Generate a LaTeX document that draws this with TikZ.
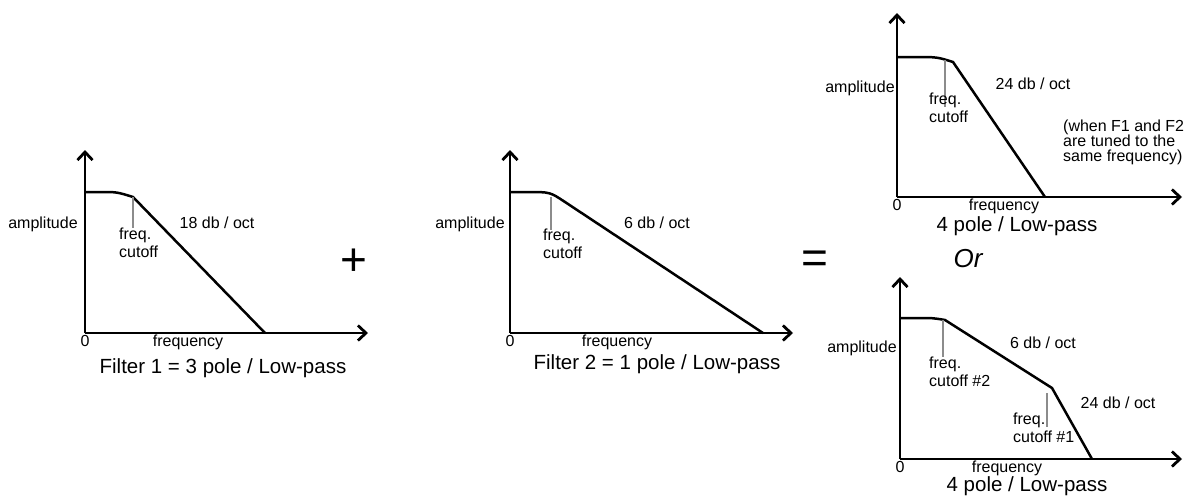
\documentclass[tikz,border=0pt]{standalone}
\usepackage{fontspec}
\setmainfont{Liberation Sans}
\usetikzlibrary{arrows.meta}
\definecolor{TickGray}{RGB}{140,140,140}

\begin{document}
\begin{tikzpicture}[
  x=1pt, y=-1pt,
  >={Straight Barb[length=8pt,width=15pt]},
  axis/.style={->, line width=2.8pt},
  resp/.style={line width=2.5pt},
  cut/.style={line width=2pt, draw=TickGray},
  lbl/.style={inner sep=0pt, anchor=mid, font=\fontsize{16}{18}\selectfont},
  note/.style={inner sep=0pt, anchor=west, align=left, font=\fontsize{16}{18}\selectfont},
  ttl/.style={inner sep=0pt, anchor=mid, font=\fontsize{20.5}{24}\selectfont},
  op/.style={inner sep=0pt, font=\fontsize{46}{50}\selectfont},
]
  \useasboundingbox (0,0) rectangle (1189,498);

  % ========== Filter 1 ==========
  \coordinate (o1) at (85,333);
  \coordinate (y1) at (85,150);
  \coordinate (x1) at (368,333);
  \coordinate (t1) at (85,192);
  \coordinate (k1) at (133,197);
  \coordinate (z1) at (265,333);
  \draw[axis] (o1) -- (y1);
  \draw[axis] (o1) -- (x1);
  \draw[resp] (t1) -- ++(15,0) .. controls +(17,0) .. (k1) -- (z1);
  \draw[cut] (k1) -- ++(0,31);
  \node[lbl] (amp1) at (43,226) {amplitude};
  \node[note] (fc1) at (119,243) {freq.\\cutoff};
  \node[lbl] (sl1) at (217,226) {18 db / oct};
  \node[lbl] (zero1) at (85,344) {0};
  \node[lbl] (fq1) at (188,344) {frequency};
  \node[ttl] (ttl1) at (223,371) {Filter 1 = 3 pole / Low-pass};

  \node[op] (plus) at (354,262) {+};

  % ========== Filter 2 ==========
  \coordinate (o2) at (510,333);
  \coordinate (y2) at (510,150);
  \coordinate (x2) at (793,333);
  \coordinate (t2) at (510,192);
  \coordinate (k2) at (565,202);
  \coordinate (z2) at (763,333);
  \draw[axis] (o2) -- (y2);
  \draw[axis] (o2) -- (x2);
  \draw[resp] (t2) -- ++(18,0) .. controls +(22,0) .. (k2) -- (z2);
  \draw[cut] (551,197) -- ++(0,33);
  \node[lbl] (amp2) at (470,226) {amplitude};
  \node[note] (fc2) at (543,244) {freq.\\cutoff};
  \node[lbl] (sl2) at (657,226) {6 db / oct};
  \node[lbl] (zero2) at (510,344) {0};
  \node[lbl] (fq2) at (617,344) {frequency};
  \node[ttl] (ttl2) at (657,367) {Filter 2 = 1 pole / Low-pass};

  \node[op] (eq) at (815,262) {=};

  % ========== Result A: same frequency ==========
  \coordinate (o3) at (897,197);
  \coordinate (y3) at (897,13);
  \coordinate (x3) at (1182,197);
  \coordinate (t3) at (897,57);
  \coordinate (k3) at (953,62);
  \coordinate (z3) at (1045,197);
  \draw[axis] (o3) -- (y3);
  \draw[axis] (o3) -- (x3);
  \draw[resp] (t3) -- ++(18,0) .. controls +(22,0) .. (k3) -- (z3);
  \draw[cut] (945,60) -- ++(0,47);
  \node[lbl] (amp3) at (860,90) {amplitude};
  \node[note] (fc3) at (929,108) {freq.\\cutoff};
  \node[lbl] (sl3) at (1033,87) {24 db / oct};
  \node[note, font=\fontsize{16}{15}\selectfont] (cond) at (1063,142)
    {(when F1 and F2\\are tuned to the\\same frequency)};
  \node[lbl] (zero3) at (897,208) {0};
  \node[lbl] (fq3) at (1004,208) {frequency};
  \node[ttl] (ttl3) at (1017,229) {4 pole / Low-pass};

  \node[inner sep=0pt, anchor=mid, font=\fontsize{26}{30}\selectfont\itshape] (alt) at (968,265) {Or};

  % ========== Result B: two cutoffs ==========
  \coordinate (o4) at (900,459);
  \coordinate (y4) at (900,277);
  \coordinate (x4) at (1182,459);
  \coordinate (t4) at (900,318);
  \coordinate (k4) at (945,320);
  \coordinate (b4) at (1052,388);
  \coordinate (z4) at (1092,459);
  \draw[axis] (o4) -- (y4);
  \draw[axis] (o4) -- (x4);
  \draw[resp] (t4) -- ++(17,0) .. controls +(16,0) .. (k4) -- (b4) -- (z4);
  \draw[cut] (943,320) -- ++(0,37);
  \draw[cut] (1047,393) -- ++(0,34);
  \node[lbl] (amp4) at (862,350) {amplitude};
  \node[note] (fc4a) at (929,372) {freq.\\cutoff \#2};
  \node[lbl] (sl4a) at (1043,346) {6 db / oct};
  \node[lbl] (sl4b) at (1118,406) {24 db / oct};
  \node[note] (fc4b) at (1013,428) {freq.\\cutoff \#1};
  \node[lbl] (zero4) at (900,470) {0};
  \node[lbl] (fq4) at (1007,470) {frequency};
  \node[ttl] (ttl4) at (1027,489) {4 pole / Low-pass};
\end{tikzpicture}
\end{document}
